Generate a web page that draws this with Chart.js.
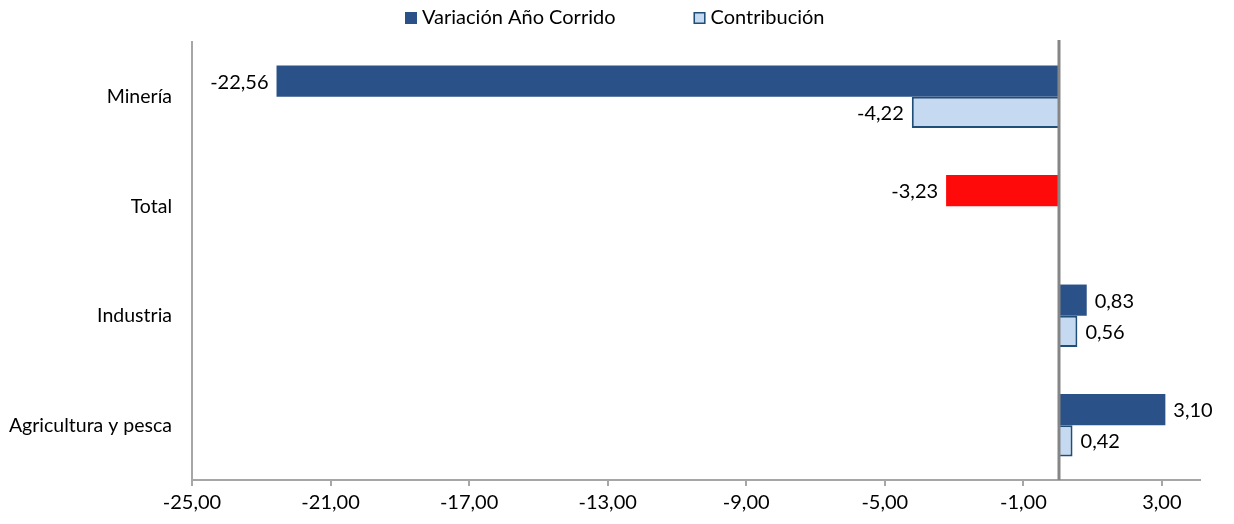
<!DOCTYPE html>
<html>
<head>
<meta charset="utf-8">
<script src="https://cdn.jsdelivr.net/npm/chart.js@4.4.1/dist/chart.umd.min.js"></script>
<style>
  html,body{margin:0;padding:0;background:#fff}
  #wrap{width:1234px;height:524px;position:relative}
</style>
</head>
<body>
<div id="wrap"><canvas id="chart"></canvas></div>
<script>
// data
const categories   = ['Minería', 'Total', 'Industria', 'Agricultura y pesca'];
const variacion    = [-22.56, -3.23, 0.83, 3.10];
const contribucion = [-4.22, null, 0.56, 0.42];
const xTicks       = [-25, -21, -17, -13, -9, -5, -1, 3];

const DARK = '#2B5288', LIGHT = '#C5D9F1', EDGE = '#1F4E79', RED = '#FF0A0A';
const FONT = 'Lato';

const fmt = v => v.toFixed(2).replace('.', ',');

// value labels at the end of each bar
const barLabels = {
  id: 'barLabels',
  afterDatasetsDraw(chart) {
    const ctx = chart.ctx;
    ctx.save();
    ctx.font = `20px ${FONT}`;
    ctx.fillStyle = '#000';
    ctx.textBaseline = 'middle';
    chart.data.datasets.forEach((ds, i) => {
      chart.getDatasetMeta(i).data.forEach((bar, j) => {
        const v = ds.data[j];
        if (v === null || v === undefined) return;
        if (v < 0) { ctx.textAlign = 'right'; ctx.fillText(fmt(v), bar.x - 8, bar.y + 1); }
        else       { ctx.textAlign = 'left';  ctx.fillText(fmt(v), bar.x + 8, bar.y + 1); }
      });
    });
    ctx.restore();
  }
};

// thick grey line at zero
const zeroLine = {
  id: 'zeroLine',
  afterDatasetsDraw(chart) {
    const x = Math.round(chart.scales.x.getPixelForValue(0)) + 1;
    const {top, bottom} = chart.chartArea;
    const ctx = chart.ctx;
    ctx.save();
    ctx.strokeStyle = '#858585';
    ctx.lineWidth = 3;
    ctx.beginPath();
    ctx.moveTo(x, top - 2);
    ctx.lineTo(x, bottom);
    ctx.stroke();
    ctx.restore();
  }
};

// Excel style legend: small squares, wide gap between entries
const topLegend = {
  id: 'topLegend',
  afterDraw(chart) {
    const ctx = chart.ctx;
    ctx.save();
    ctx.font = `20px ${FONT}`;
    ctx.textBaseline = 'middle';
    ctx.textAlign = 'left';
    const box = 12, gapText = 5, gapItem = 78, y = 18;
    const items = chart.data.datasets.map(ds => ({
      text: ds.label,
      fill: ds.label === 'Contribución' ? LIGHT : DARK,
      stroke: ds.label === 'Contribución' ? EDGE : null,
      w: ctx.measureText(ds.label).width,
    }));
    let x = 405;
    items.forEach(it => {
      ctx.fillStyle = it.fill;
      ctx.fillRect(x, y - box / 2, box, box);
      if (it.stroke) { ctx.strokeStyle = it.stroke; ctx.lineWidth = 1.5; ctx.strokeRect(x + .75, y - box / 2 + .75, box - 1.5, box - 1.5); }
      ctx.fillStyle = '#000';
      ctx.fillText(it.text, x + box + gapText, y);
      x += box + gapText + it.w + gapItem;
    });
    ctx.restore();
  }
};

new Chart(document.getElementById('chart'), {
  type: 'bar',
  data: {
    labels: categories,
    datasets: [
      {
        label: 'Variación Año Corrido',
        data: variacion,
        backgroundColor: c => (c.dataIndex !== undefined && categories[c.dataIndex] === 'Total') ? RED : DARK,
        borderWidth: 0,
      },
      {
        label: 'Contribución',
        data: contribucion,
        backgroundColor: LIGHT,
        borderColor: EDGE,
        borderWidth: 2,
      },
    ],
  },
  options: {
    indexAxis: 'y',
    responsive: true, maintainAspectRatio: false,
    animation: false,
    categoryPercentage: 0.57,
    barPercentage: 1,
    layout: { padding: { left: 0, right: 34, top: 42, bottom: 0 } },
    plugins: {
      legend: { display: false },
      tooltip: { enabled: false },
    },
    scales: {
      x: {
        min: -25, max: 4.1,
        afterBuildTicks: s => { s.ticks = xTicks.map(v => ({ value: v })); },
        afterFit: s => { s.height = 44; },
        grid: { display: true, drawOnChartArea: false, drawTicks: true, tickLength: 6, color: '#A6A6A6', lineWidth: 2 },
        border: { display: true, color: '#A6A6A6', width: 2 },
        ticks: { font: { family: FONT, size: 20 }, color: '#000', padding: 5, maxRotation: 0, callback: v => fmt(v) },
      },
      y: {
        afterFit: s => { s.width = 192; },
        grid: { display: false },
        border: { display: true, color: '#A6A6A6', width: 2 },
        ticks: { font: { family: FONT, size: 19.5 }, color: '#000', padding: 12 },
      },
    },
  },
  plugins: [barLabels, zeroLine, topLegend],
});
</script>
</body>
</html>
